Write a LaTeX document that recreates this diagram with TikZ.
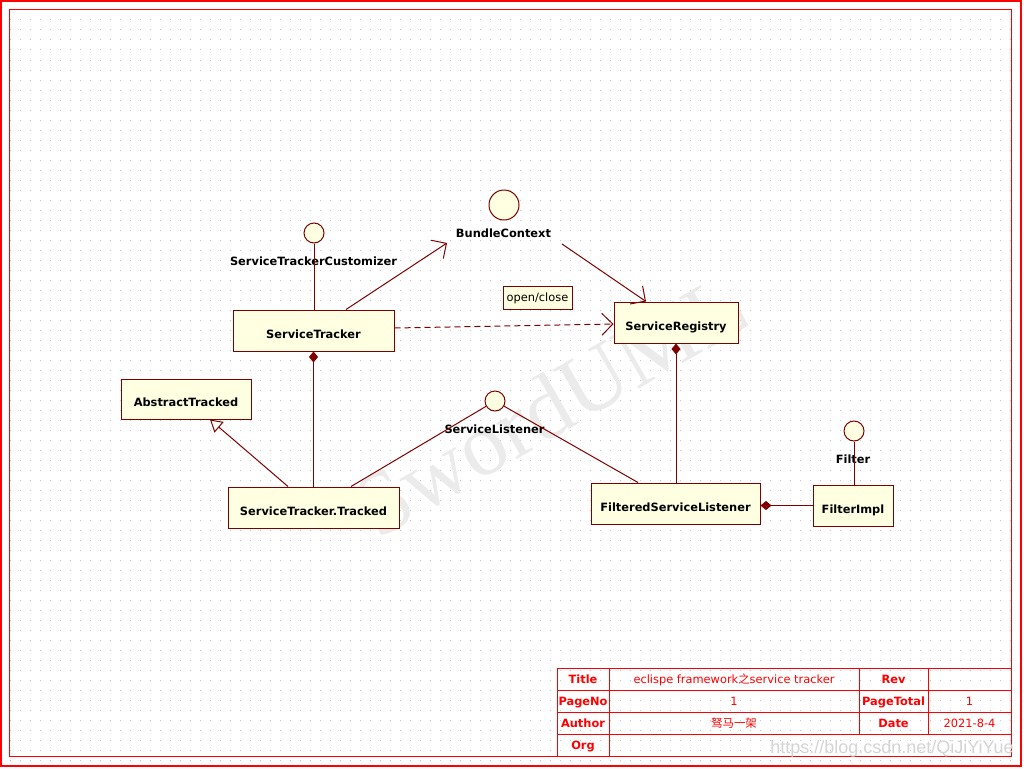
\documentclass[tikz,border=0pt]{standalone}
\usepackage{fontspec}
\setmainfont{DejaVu Sans}
\newfontfamily\cjkfont{Noto Sans CJK SC}
\newfontfamily\markfont{Liberation Serif}
\newfontfamily\urlfont{Liberation Sans}
\usepackage{tikz}
\usetikzlibrary{arrows.meta, positioning, calc}
\definecolor{umlred}{HTML}{800000}
\definecolor{umlfill}{HTML}{FFFFE1}
\definecolor{framered}{HTML}{FF0000}
\definecolor{gridgray}{HTML}{C4C4C4}

\begin{document}
\begin{tikzpicture}[
  x=1pt, y=-1pt,
  base/.style={
    font=\fontsize{11.4}{13}\selectfont,
    inner sep=0pt, text height=9pt, text depth=1pt
  },
  cls/.style={
    base, rectangle,
    draw=umlred, fill=umlfill,
    line width=1pt,
    font=\fontsize{11.4}{13}\selectfont\bfseries,
    text height=15pt, text depth=0pt,
    minimum height=41pt
  },
  note/.style={
    base, rectangle,
    draw=umlred, fill=umlfill,
    line width=1pt,
    minimum width=69pt, minimum height=23pt
  },
  iface/.style={
    circle, draw=umlred, fill=umlfill,
    line width=1pt, minimum size=20pt, inner sep=0pt
  },
  iname/.style={base, font=\fontsize{11.4}{13}\selectfont\bfseries},
  link/.style={draw=umlred, line width=1pt},
  nav/.style={link, -{Straight Barb[length=11pt, width=22pt]}},
  comp/.style={link, {Diamond[length=11pt, width=9pt]}-},
  gen/.style={link, -{Triangle[open, length=12pt, width=14pt]}},
  cell/.style={base, text=framered},
  head/.style={cell, font=\fontsize{11.4}{13}\selectfont\bfseries},
  frame/.style={draw=framered, line width=1pt},
  dots/.style={draw=gridgray, line width=1pt, dash pattern=on 1pt off 9pt}
]
\useasboundingbox (0,0) rectangle (1024,768);

%% Background grid and watermarks
\foreach \gy in {10,20,...,760}
  \draw[dots] (9.5,\gy) -- (1021,\gy);

\node[rotate=30, text=black!8, inner sep=0pt,
      font=\fontsize{90}{90}\selectfont\markfont]
  (mark) at (550,405) {SwordUML};

%% Frames
\draw[frame, line width=2pt] (1,1) rectangle (1021,766);
\draw[frame, line width=1.5pt] (9.5,9.5) rectangle (1011.5,756.5);

%% Classes
\node[cls, minimum width=161pt] (tracker)    at (313.5,330.5) {ServiceTracker};
\node[cls, minimum width=130pt, minimum height=40pt]
                                (abstract)   at (186,399)     {AbstractTracked};
\node[cls, minimum width=171pt] (tracked)    at (313.5,507.5) {ServiceTracker.Tracked};
\node[cls, minimum width=124pt] (registry)   at (676,322.5)   {ServiceRegistry};
\node[cls, minimum width=169pt] (filtered)   at (675.5,503.5) {FilteredServiceListener};
\node[cls, minimum width=80pt]  (filterimpl) at (853,505.5)   {FilterImpl};

%% Note
\node[note] (openclose) at (537.5,297.5) {open/close};

%% Interfaces
\node[iface] (cust)     at (314,233) {};
\node[iface, minimum size=30pt] (bundle) at (504,205) {};
\node[iface] (listener) at (495,401) {};
\node[iface] (filter)   at (854,431) {};

\node[iname] (custname)     at (313.5,261) {ServiceTrackerCustomizer};
\node[iname] (bundlename)   at (503.5,233) {BundleContext};
\node[iname] (listenername) at (494.5,429) {ServiceListener};
\node[iname] (filtername)   at (853,459)   {Filter};

\coordinate (bcin)  at (447,243);
\coordinate (bcout) at (562,244);

%% --- Connectors ---
\draw[link] (cust) -- (cust |- tracker.north);
\draw[nav]  ([xshift=32.5pt]tracker.north) -- (bcin);
\draw[nav]  (bcout) -- ([xshift=-30pt]registry.north);
\draw[nav, dash pattern=on 6pt off 4pt]
  ([yshift=2.5pt]tracker.east) -- ([yshift=-1.5pt]registry.west);

\draw[comp] (tracker.south) -- (tracked.north);
\draw[gen]  ([xshift=-25.5pt]tracked.north) -- ([xshift=24pt]abstract.south);
\draw[link] ([xshift=37.5pt]tracked.north) -- (listener);
\draw[link] ([xshift=-37.5pt]filtered.north) -- (listener);

\draw[comp] (registry.south) -- (registry.south |- filtered.north);
\draw[comp] (filtered.east |- filterimpl.west) -- (filterimpl.west);
\draw[link] (filter) -- (filter |- filterimpl.north);

%% Title block
\draw[frame] (557,668) rectangle (1011.5,756.5);
\foreach \ty in {690,712,734}
  \draw[frame] (557,\ty) -- (1011.5,\ty);
\draw[frame] (609,668) -- (609,756.5);
\foreach \tx in {859,928}
  \draw[frame] (\tx,668) -- (\tx,734);

\node[head] (ttitle)  at (583,679)   {Title};
\node[cell] (vtitle)  at (734,679)   {eclispe framework{\cjkfont 之}service tracker};
\node[head] (trev)    at (893.5,679) {Rev};
\node[head] (tpage)   at (583,701)   {PageNo};
\node[cell] (vpage)   at (734,701)   {1};
\node[head] (ttotal)  at (893.5,701) {PageTotal};
\node[cell] (vtotal)  at (969.5,701) {1};
\node[head] (tauthor) at (583,723)   {Author};
\node[cell] (vauthor) at (734,723)   {\cjkfont 驽马一架};
\node[head] (tdate)   at (893.5,723) {Date};
\node[cell] (vdate)   at (969.5,723) {2021-8-4};
\node[head] (torg)    at (583,745)   {Org};

\node[text=black!17, inner sep=0pt,
      font=\fontsize{18}{18}\selectfont\urlfont]
  (csdn) at (892,749) {https://blog.csdn.net/QiJiYiYue};

\end{tikzpicture}
\end{document}
